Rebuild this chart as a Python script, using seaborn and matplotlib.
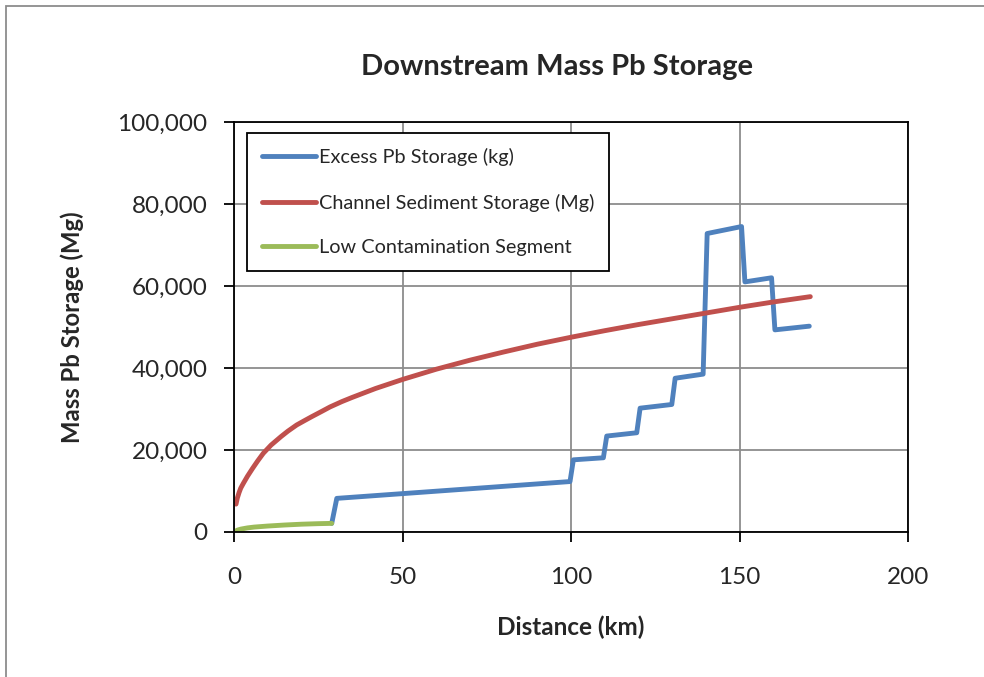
import numpy as np
import pandas as pd
import matplotlib
matplotlib.use("Agg")
import matplotlib.pyplot as plt
import seaborn as sb
from matplotlib.ticker import FuncFormatter, MultipleLocator
from matplotlib.patches import Rectangle

# ---- data ----
excess_km = [29.0, 30.5, 99.7, 100.7, 109.6, 110.6, 119.5, 120.5, 129.9, 130.9,
             139.2, 140.4, 150.6, 151.6, 159.5, 160.5, 170.7]
excess_pb = [2100, 8200, 12300, 17600, 18100, 23400, 24200, 30200, 31100, 37500,
             38500, 72800, 74500, 61000, 62000, 49300, 50200]

channel_km = [0.6, 1, 1.5, 2, 2.8, 4, 5.5, 7, 8.7, 11, 14, 16, 18.6, 21, 23, 26,
              28.5, 32, 35, 42, 50, 60, 70, 80, 90, 100, 110, 120, 130, 140, 150,
              160, 171]
channel_sed = [6800, 8300, 9600, 10700, 11900, 13600, 15500, 17300, 19200, 21200,
               23300, 24600, 26100, 27200, 28100, 29400, 30500, 31800, 32800, 35000,
               37200, 39700, 41900, 43900, 45800, 47500, 49100, 50600, 52000, 53400,
               54800, 56100, 57400]

low_km = [0, 1, 2, 4, 6, 10, 15, 20, 25, 29]
low_pb = [0, 450, 700, 1000, 1200, 1450, 1700, 1900, 2030, 2100]

blue = "#4F81BD"
red = "#C0504D"
green = "#9BBB59"

sb.set_theme(style="white")
plt.rcParams["font.family"] = ["Lato", "DejaVu Sans"]

fig = plt.figure(figsize=(9.84, 6.77), dpi=100)
ax = fig.add_axes([0.2378, 0.2142, 0.685, 0.6056])

df_ex = pd.DataFrame({"km": excess_km, "val": excess_pb})
df_ch = pd.DataFrame({"km": channel_km, "val": channel_sed})
df_lo = pd.DataFrame({"km": low_km, "val": low_pb})

lw = 3.5
sb.lineplot(data=df_ex, x="km", y="val", ax=ax, color=blue, lw=lw, sort=False,
            estimator=None, label="Excess Pb Storage (kg)", solid_capstyle="round",
            solid_joinstyle="round")
sb.lineplot(data=df_ch, x="km", y="val", ax=ax, color=red, lw=lw, sort=False,
            estimator=None, label="Channel Sediment Storage (Mg)", solid_capstyle="round",
            solid_joinstyle="round")
sb.lineplot(data=df_lo, x="km", y="val", ax=ax, color=green, lw=lw, sort=False,
            estimator=None, label="Low Contamination Segment", solid_capstyle="round",
            solid_joinstyle="round")

ax.set_xlim(0, 200)
ax.set_ylim(0, 100000)
ax.xaxis.set_major_locator(MultipleLocator(50))
ax.yaxis.set_major_locator(MultipleLocator(20000))
ax.yaxis.set_major_formatter(FuncFormatter(lambda v, p: f"{int(v):,}"))
ax.grid(True, color="#8c8c8c", lw=1.3)
ax.set_axisbelow(True)
for s in ax.spines.values():
    s.set_color("black")
    s.set_linewidth(1.3)
ax.tick_params(axis="both", which="major", direction="out", length=7, width=1.3,
               color="black", labelsize=17.5, bottom=True, left=True)
ax.tick_params(axis="x", pad=18)
ax.tick_params(axis="y", pad=12)

fig.text(557 / 984, 1 - 67 / 677, "Downstream Mass Pb Storage", fontsize=21,
         fontweight="bold", ha="center", va="center")
ax.set_xlabel("Distance (km)", fontsize=17.5, fontweight="bold", labelpad=20)
ax.set_ylabel("Mass Pb Storage (Mg)", fontsize=17.2, fontweight="bold", labelpad=24)

leg = ax.legend(loc="upper left", bbox_to_anchor=(0.02, 0.972), fontsize=14.3,
                frameon=True, fancybox=False, borderpad=0.75, labelspacing=1.37,
                handlelength=2.7, handletextpad=0.15, borderaxespad=0)
leg.get_frame().set_edgecolor("black")
leg.get_frame().set_linewidth(1.3)
leg.get_frame().set_facecolor("white")
leg.get_frame().set_alpha(1)

# outer chart border (only the left/top edges show in the reference)
fig.patches.append(Rectangle((6 / 984, -0.05), 1.2, 1.05 - 6 / 677,
                             transform=fig.transFigure, fill=False,
                             edgecolor="#8c8c8c", lw=1.3))

fig.savefig("out.png", dpi=100)
